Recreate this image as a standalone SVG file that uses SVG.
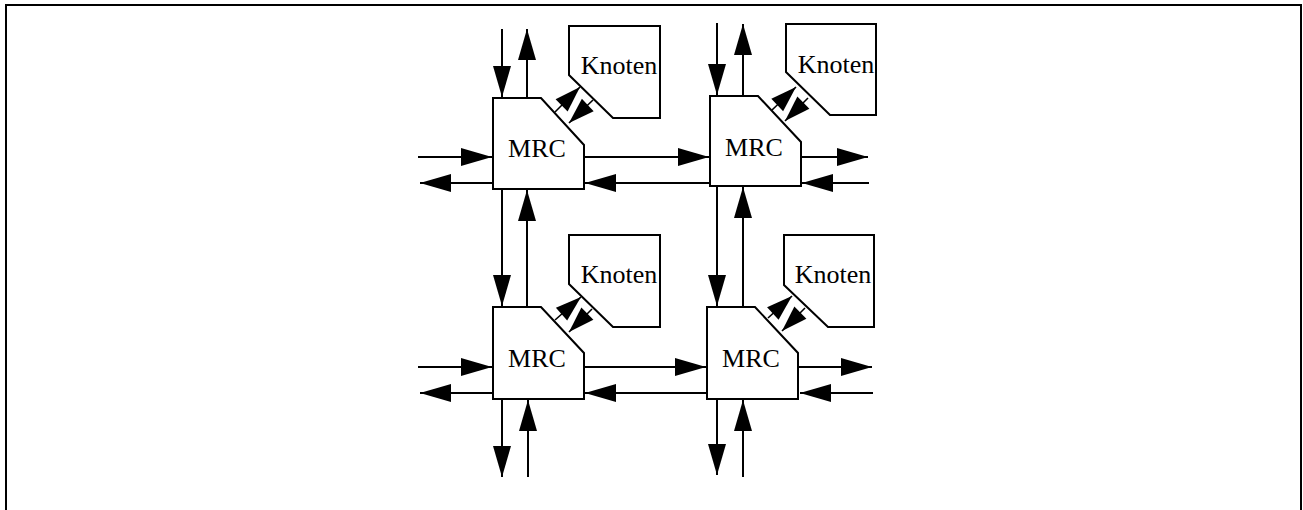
<svg xmlns="http://www.w3.org/2000/svg" width="1303" height="510" viewBox="0 0 1303 510">
  <style>
    .box { fill: #fff; stroke: #000; stroke-width: 2; stroke-linejoin: miter; }
    .lbl { font-family: "Liberation Serif", "Times New Roman", serif; font-size: 26px; fill: #000; text-anchor: middle; }
    .ln { fill: none; stroke: #000; stroke-width: 2; marker-end: url(#head); }
    .lk { fill: none; stroke: #000; stroke-width: 1.6; marker-end: url(#headS); }
  </style>
  <defs>
    <marker id="head" markerUnits="userSpaceOnUse" markerWidth="31" markerHeight="19" refX="31" refY="9" orient="auto" overflow="visible">
      <path d="M0,0 L31,9 L0,18 Z" fill="#000"/>
    </marker>
    <marker id="headS" markerUnits="userSpaceOnUse" markerWidth="26" markerHeight="18" refX="26" refY="8.5" orient="auto" overflow="visible">
      <path d="M0,0 L26,8.5 L0,17 Z" fill="#000"/>
    </marker>
  </defs>

  <!-- outer frame, open at the bottom -->
  <rect x="6" y="5" width="1295" height="530" fill="none" stroke="#000" stroke-width="2"/>

  <!-- processing nodes -->
  <g id="knoten1"><path class="box" d="M569,26 H660 V118 H613 L569,75 Z"/><text class="lbl" x="619" y="74">Knoten</text></g>
  <g id="knoten2"><path class="box" d="M786,24 H876 V115 H830 L786,72 Z"/><text class="lbl" x="836" y="73">Knoten</text></g>
  <g id="knoten3"><path class="box" d="M569,235 H660 V327 H613 L569,284 Z"/><text class="lbl" x="619" y="283">Knoten</text></g>
  <g id="knoten4"><path class="box" d="M784,235 H874 V327 H828 L784,285 Z"/><text class="lbl" x="833" y="283">Knoten</text></g>

  <!-- routing controllers -->
  <g id="mrc1"><path class="box" d="M493,98 H541 L584,145 V189 H493 Z"/><text class="lbl" x="537" y="157">MRC</text></g>
  <g id="mrc2"><path class="box" d="M710,96 H758 L801,142 V186 H710 Z"/><text class="lbl" x="754" y="156">MRC</text></g>
  <g id="mrc3"><path class="box" d="M493,307 H541 L584,353 V399 H493 Z"/><text class="lbl" x="537" y="367">MRC</text></g>
  <g id="mrc4"><path class="box" d="M707,307 H755 L798,353 V399 H707 Z"/><text class="lbl" x="751" y="367">MRC</text></g>

  <g id="connectors">
    <!-- MRC 1 -->
    <line class="ln" x1="502" y1="29" x2="502" y2="97"/>
    <line class="ln" x1="527" y1="98" x2="527" y2="29"/>
    <line class="ln" x1="418" y1="157" x2="492" y2="157"/>
    <line class="ln" x1="493" y1="183" x2="420" y2="183"/>
    <line class="ln" x1="584" y1="157" x2="709" y2="157"/>
    <line class="ln" x1="710" y1="183" x2="585" y2="183"/>
    <line class="ln" x1="502" y1="189" x2="502" y2="306"/>
    <line class="ln" x1="527" y1="307" x2="527" y2="190"/>
    <!-- MRC 2 -->
    <line class="ln" x1="717" y1="23" x2="717" y2="95"/>
    <line class="ln" x1="743" y1="96" x2="743" y2="24"/>
    <line class="ln" x1="801" y1="157" x2="868" y2="157"/>
    <line class="ln" x1="869" y1="183" x2="802" y2="183"/>
    <line class="ln" x1="717" y1="186" x2="717" y2="306"/>
    <line class="ln" x1="743" y1="307" x2="743" y2="187"/>
    <!-- MRC 3 -->
    <line class="ln" x1="418" y1="367" x2="492" y2="367"/>
    <line class="ln" x1="493" y1="393" x2="420" y2="393"/>
    <line class="ln" x1="502" y1="399" x2="502" y2="477"/>
    <line class="ln" x1="528" y1="477" x2="528" y2="400"/>
    <line class="ln" x1="584" y1="367" x2="706" y2="367"/>
    <line class="ln" x1="707" y1="393" x2="585" y2="393"/>
    <!-- MRC 4 -->
    <line class="ln" x1="798" y1="367" x2="872" y2="367"/>
    <line class="ln" x1="873" y1="393" x2="800" y2="393"/>
    <line class="ln" x1="717" y1="399" x2="717" y2="475"/>
    <line class="ln" x1="743" y1="477" x2="743" y2="400"/>
    <!-- node links -->
    <line class="lk" x1="555" y1="112" x2="580" y2="87"/>
    <line class="lk" x1="593" y1="100" x2="569" y2="123"/>
    <line class="lk" x1="772" y1="110" x2="796" y2="87"/>
    <line class="lk" x1="808" y1="98" x2="785" y2="121"/>
    <line class="lk" x1="555" y1="320" x2="581" y2="297"/>
    <line class="lk" x1="592" y1="309" x2="569" y2="332"/>
    <line class="lk" x1="768" y1="318" x2="792" y2="296"/>
    <line class="lk" x1="805" y1="308" x2="782" y2="331"/>
  </g>
</svg>
